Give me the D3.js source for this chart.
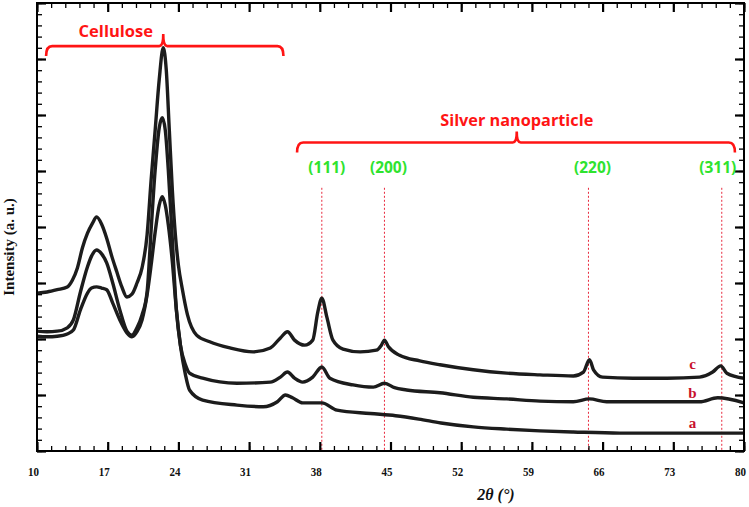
<!DOCTYPE html>
<html>
<head>
<meta charset="utf-8">
<script src="https://cdn.jsdelivr.net/npm/d3@7"></script>
<style>
body{margin:0;background:#fff;}
</style>
</head>
<body>
<svg id="chart" width="749" height="507"></svg>
<script>
// XRD patterns: [2theta, intensity (a.u.)]
var sampleA = [[10.0,205],[11.0,204],[12.0,205],[13.0,209],[13.6,216],[14.3,252],[15.0,282],[15.4,291],[15.9,293],
  [16.4,291],[16.9,288],[17.5,264],[18.2,234],[18.9,211],[19.4,204],[19.9,213],[20.4,234],[20.9,279],[21.3,332],
  [21.7,391],[22.1,439],[22.4,454],[22.7,439],[23.0,404],[23.4,338],[23.8,252],[24.2,189],[24.7,136],[25.1,109],
  [26.4,91],[29.8,82],[32.4,79],[33.8,88],[34.6,100],[35.3,95],[36.3,86],[38.2,86],[39.7,73],[43.0,67],[45.5,63],
  [47.8,57],[50.0,50],[53.2,43],[56.5,39],[59.8,36],[63.1,34],[67.7,32],[72.4,32],[80.0,32]];
var sampleB = [[10.0,214],[11.0,213],[12.0,214],[13.0,220],[13.6,234],[14.3,284],[15.0,329],[15.4,348],[15.9,359],
  [16.4,352],[16.9,336],[17.5,300],[18.2,252],[18.9,214],[19.4,207],[19.9,220],[20.4,243],[20.9,284],[21.3,395],
  [21.7,502],[22.1,577],[22.4,595],[22.7,573],[23.0,502],[23.4,377],[23.8,252],[24.2,189],[24.7,154],[25.1,139],
  [26.4,130],[29.8,121],[33.1,123],[34.1,132],[34.8,141],[35.5,130],[36.3,123],[37.3,132],[38.2,150],[39.0,130],
  [41.3,118],[43.3,114],[44.4,121],[45.4,113],[46.6,109],[49.9,104],[53.2,96],[56.5,93],[59.8,89],[63.1,88],
  [64.7,93],[66.4,88],[72.4,88],[75.6,88],[77.4,95],[80.0,86]];
var sampleC = [[10.0,282],[11.0,284],[12.0,288],[13.0,293],[13.5,305],[14.0,327],[14.5,363],[15.0,389],[15.5,407],
  [15.9,418],[16.4,405],[16.9,380],[17.4,348],[17.9,320],[18.4,293],[18.9,275],[19.4,280],[19.9,300],[20.4,327],
  [20.9,386],[21.3,484],[21.7,573],[22.1,663],[22.5,720],[22.8,680],[23.1,573],[23.4,466],[23.7,386],[24.0,332],
  [24.4,288],[24.9,243],[25.8,207],[27.1,195],[29.1,184],[31.4,177],[33.1,184],[34.1,202],[34.8,213],[35.5,198],
  [36.5,189],[37.3,198],[37.8,248],[38.2,273],[38.7,239],[39.3,198],[40.3,182],[42.0,177],[43.6,180],[44.1,189],
  [44.4,198],[44.8,186],[45.9,171],[47.9,161],[49.9,154],[53.2,145],[56.5,139],[59.8,136],[63.1,134],[64.1,141],
  [64.7,163],[65.1,145],[66.0,132],[69.0,130],[72.4,130],[75.6,132],[76.9,141],[77.7,152],[78.3,139],[80.0,130]];

var xTicks = [10, 17, 24, 31, 38, 45, 52, 59, 66, 73, 80];
var peakPos = [38.2, 44.4, 64.6, 77.8];
var peakNames = ["(111)", "(200)", "(220)", "(311)"];
var sampleNames = ["a", "b", "c"];
var sampleLabelAt = [[74.9, 41], [74.9, 95], [74.9, 146]];

var svg = d3.select("#chart");
var x = d3.scaleLinear().domain([10, 80]).range([37, 744]);
var y = d3.scaleLinear().domain([0, 800]).range([451, 3]);

var red = "#ff1414", green = "#2fe32f", darkRed = "#c8102e";

// dotted peak markers
svg.selectAll(".peak").data(peakPos).enter().append("line")
  .attr("x1", function(d){ return x(d); }).attr("x2", function(d){ return x(d); })
  .attr("y1", y(470)).attr("y2", y(0))
  .attr("stroke", "#e8283c").attr("stroke-width", 1).attr("stroke-dasharray", "2,2");

// curves
var line = d3.line().x(function(d){ return x(d[0]); }).y(function(d){ return y(d[1]); }).curve(d3.curveMonotoneX);
[sampleA, sampleB, sampleC].forEach(function(s){
  svg.append("path").attr("d", line(s)).attr("fill", "none")
    .attr("stroke", "#1c1c1c").attr("stroke-width", 3.4).attr("stroke-linejoin", "round");
});

// axes (ticks inside the frame)
function styleAxis(g, w){
  g.select(".domain").remove();
  g.selectAll(".tick line").attr("stroke", "#000").attr("stroke-width", w);
}
var minorX = d3.range(10, 80.01, 1.4), minorY = d3.range(0, 800.1, 20);
var majorY = d3.range(0, 801, 100);

svg.append("g").attr("transform", "translate(0," + y(0) + ")")
  .call(d3.axisBottom(x).tickValues(minorX).tickSize(-5).tickFormat("")).call(styleAxis, 1.3);
var xa = svg.append("g").attr("transform", "translate(0," + y(0) + ")")
  .call(d3.axisBottom(x).tickValues(xTicks).tickSize(-9).tickPadding(15).tickFormat(d3.format("d")));
xa.call(styleAxis, 2.2);
xa.selectAll("text").attr("dx", -4).attr("font-family", "Liberation Serif").attr("font-size", 13.5)
  .attr("font-weight", "bold").attr("fill", "#111")
  .attr("textLength", 11).attr("lengthAdjust", "spacingAndGlyphs");

svg.append("g").attr("transform", "translate(0," + y(800) + ")")
  .call(d3.axisTop(x).tickValues(minorX).tickSize(-5).tickFormat("")).call(styleAxis, 1.3);
svg.append("g").attr("transform", "translate(0," + y(800) + ")")
  .call(d3.axisTop(x).tickValues(xTicks).tickSize(-9).tickFormat("")).call(styleAxis, 2.2);

svg.append("g").attr("transform", "translate(" + x(10) + ",0)")
  .call(d3.axisLeft(y).tickValues(minorY).tickSize(-5).tickFormat("")).call(styleAxis, 1.3);
svg.append("g").attr("transform", "translate(" + x(10) + ",0)")
  .call(d3.axisLeft(y).tickValues(majorY).tickSize(-9).tickFormat("")).call(styleAxis, 2.2);
svg.append("g").attr("transform", "translate(" + x(80) + ",0)")
  .call(d3.axisRight(y).tickValues(minorY).tickSize(-5).tickFormat("")).call(styleAxis, 1.3);
svg.append("g").attr("transform", "translate(" + x(80) + ",0)")
  .call(d3.axisRight(y).tickValues(majorY).tickSize(-9).tickFormat("")).call(styleAxis, 2.2);

svg.append("rect").attr("x", x(10)).attr("y", y(800))
  .attr("width", x(80) - x(10)).attr("height", y(0) - y(800))
  .attr("fill", "none").attr("stroke", "#000").attr("stroke-width", 2);

// axis titles
svg.append("text").attr("x", 496).attr("y", 500).attr("text-anchor", "middle")
  .attr("font-family", "Liberation Serif").attr("font-size", 16).attr("font-weight", "bold")
  .attr("font-style", "italic").attr("fill", "#111").text("2θ (°)");
svg.append("text").attr("transform", "translate(14,247) rotate(-90)").attr("text-anchor", "middle")
  .attr("font-family", "Liberation Serif").attr("font-size", 15).attr("font-weight", "bold")
  .attr("fill", "#111").text("Intensity (a. u.)");

// curly brackets
function bracket(x0, x1, xc, level, drop, rise){
  var yl = y(level), ye = y(level) + drop, yt = y(level) - rise;
  var a = x(x0), b = x(x1), c = x(xc), r = 6, r2 = 4;
  return "M" + a + "," + ye + "Q" + a + "," + yl + " " + (a + r) + "," + yl +
    "L" + (c - r2) + "," + yl + "Q" + c + "," + yl + " " + c + "," + yt +
    "Q" + c + "," + yl + " " + (c + r2) + "," + yl +
    "L" + (b - r) + "," + yl + "Q" + b + "," + yl + " " + b + "," + ye;
}
svg.append("path").attr("d", bracket(10.9, 34.4, 22.5, 723, 10, 12))
  .attr("fill", "none").attr("stroke", red).attr("stroke-width", 2.6);
svg.append("path").attr("d", bracket(35.75, 79.1, 57.5, 551, 10, 11))
  .attr("fill", "none").attr("stroke", red).attr("stroke-width", 2.6);

svg.append("text").attr("x", x(17.8)).attr("y", y(739)).attr("text-anchor", "middle")
  .attr("font-family", "Open Sans").attr("font-size", 16.5).attr("font-weight", "bold")
  .attr("fill", red).text("Cellulose");
svg.append("text").attr("x", x(57.5)).attr("y", y(580)).attr("text-anchor", "middle")
  .attr("font-family", "Open Sans").attr("font-size", 16.5).attr("font-weight", "bold")
  .attr("fill", red).attr("textLength", 153).attr("lengthAdjust", "spacingAndGlyphs").text("Silver nanoparticle");

var labelDx = [5, 4, 4, -4];
svg.selectAll(".plabel").data(peakPos).enter().append("text")
  .attr("x", function(d, i){ return x(d) + labelDx[i]; }).attr("y", 173)
  .attr("text-anchor", "middle").attr("font-family", "Open Sans").attr("font-size", 15.5)
  .attr("font-weight", "bold").attr("fill", green)
  .text(function(d, i){ return peakNames[i]; });

svg.selectAll(".slabel").data(sampleNames).enter().append("text")
  .attr("x", function(d, i){ return x(sampleLabelAt[i][0]); })
  .attr("y", function(d, i){ return y(sampleLabelAt[i][1]); })
  .attr("text-anchor", "middle").attr("font-family", "Liberation Serif").attr("font-size", 15)
  .attr("font-weight", "bold").attr("fill", darkRed)
  .text(function(d){ return d; });
</script>
</body>
</html>
